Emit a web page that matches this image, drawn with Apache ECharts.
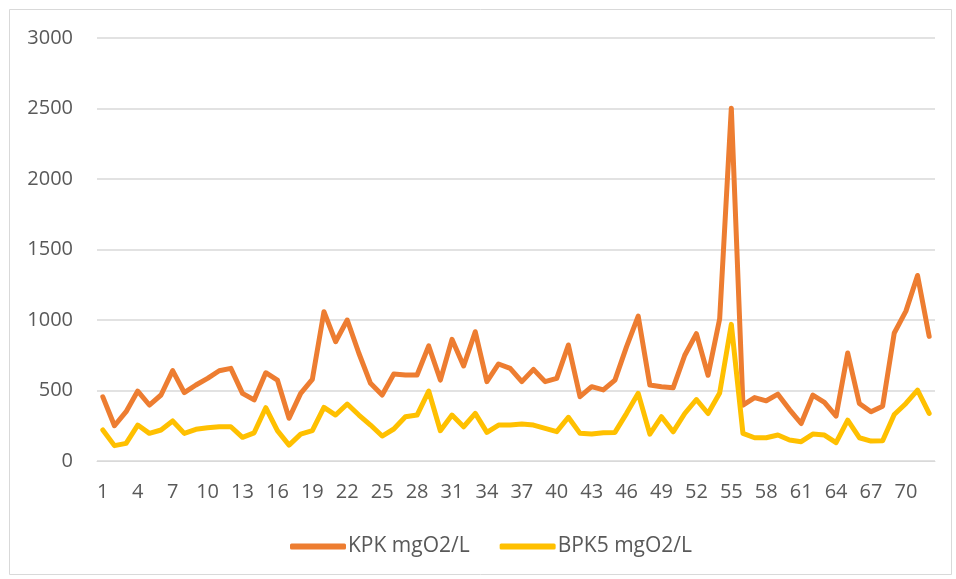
<!DOCTYPE html>
<html>
<head>
<meta charset="utf-8">
<script src="https://cdn.jsdelivr.net/npm/echarts@6/dist/echarts.min.js"></script>
<style>
html,body{margin:0;padding:0;background:#fff;}
#chart{width:956px;height:579px;}
</style>
</head>
<body>
<div id="chart"></div>
<script>
var categories = [];
for (var i = 1; i <= 72; i++) categories.push(String(i));

var kpk = [455,250,350,496,397,468,641,485,539,586,640,657,480,433,626,574,303,480,579,1059,
           846,1000,764,551,468,617,610,610,816,574,863,674,917,563,688,657,563,650,563,586,
           823,456,527,504,574,811,1028,539,527,519,750,903,608,1009,2502,396,450,427,474,365,
           266,467,415,318,766,408,349,389,908,1063,1316,884];
var bpk5 = [220,109,125,255,196,220,284,196,225,236,243,243,168,200,378,215,113,191,215,380,
            326,404,326,255,177,227,314,326,496,215,326,243,338,203,255,255,262,255,232,208,
            310,196,191,200,203,338,480,191,314,207,337,436,337,483,969,196,165,165,184,149,
            137,191,184,130,290,165,141,144,330,408,502,337];

var seriesNames = ['KPK mgO2/L', 'BPK5 mgO2/L'];
var yTicks = [0, 500, 1000, 1500, 2000, 2500, 3000];

var chart = echarts.init(document.getElementById('chart'));
var font = "'Open Sans', sans-serif";
chart.setOption({
  animation: false,
  backgroundColor: '#fff',
  graphic: [{
    type: 'rect', left: 7, top: 7,
    shape: { width: 942, height: 565 },
    style: { fill: 'none', stroke: '#d9d9d9', lineWidth: 1 },
    silent: true
  }],
  grid: { left: 97, right: 21, top: 38, bottom: 118 },
  legend: {
    top: 531, left: 285,
    itemWidth: 56, itemHeight: 6, itemGap: 30,
    icon: 'roundRect',
    textStyle: { fontFamily: font, fontSize: 21, color: '#595959', padding: [0,0,0,-3] },
    data: seriesNames
  },
  xAxis: {
    type: 'category',
    data: categories,
    boundaryGap: true,
    axisLine: { show: true, lineStyle: { color: '#d9d9d9', width: 1 } },
    axisTick: { show: false },
    axisLabel: { interval: 2, fontFamily: font, fontSize: 20, color: '#595959', margin: 21 }
  },
  yAxis: {
    type: 'value',
    min: yTicks[0], max: yTicks[yTicks.length - 1], interval: 500,
    axisLine: { show: false },
    axisTick: { show: false },
    splitLine: { lineStyle: { color: '#d9d9d9', width: 1.5 } },
    axisLabel: { fontFamily: font, fontSize: 20, color: '#595959', margin: 24,
                 formatter: function (v) { return String(v); } }
  },
  series: [
    { name: seriesNames[0], type: 'line', data: kpk, symbol: 'none',
      itemStyle: { color: '#ED7D31' },
      lineStyle: { color: '#ED7D31', width: 5, cap: 'round', join: 'round' } },
    { name: seriesNames[1], type: 'line', data: bpk5, symbol: 'none',
      itemStyle: { color: '#FFC000' },
      lineStyle: { color: '#FFC000', width: 5, cap: 'round', join: 'round' } }
  ]
});
</script>
</body>
</html>
